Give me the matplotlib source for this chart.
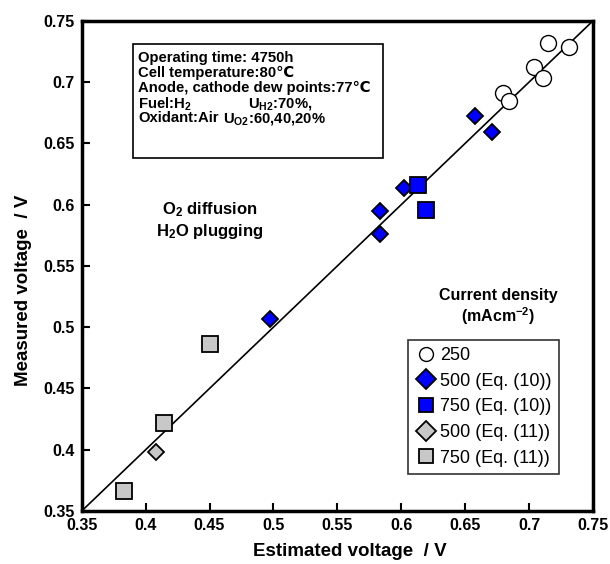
import numpy as np
import matplotlib.pyplot as plt
from matplotlib.patches import Rectangle

plt.rcParams['font.family'] = ['Liberation Sans', 'DejaVu Sans']
plt.rcParams['mathtext.fontset'] = 'custom'
plt.rcParams['mathtext.rm'] = 'Liberation Sans:bold'
plt.rcParams['mathtext.it'] = 'Liberation Sans:bold'
plt.rcParams['mathtext.bf'] = 'Liberation Sans:bold'

# 250 mA/cm2
est_250 = [0.715, 0.731, 0.704, 0.711, 0.680, 0.684]
meas_250 = [0.732, 0.729, 0.712, 0.703, 0.691, 0.685]
# 500 mA/cm2, Eq. (10)
est_500_10 = [0.658, 0.671, 0.602, 0.583, 0.583, 0.497]
meas_500_10 = [0.672, 0.659, 0.614, 0.595, 0.576, 0.507]
# 750 mA/cm2, Eq. (10)
est_750_10 = [0.613, 0.619]
meas_750_10 = [0.616, 0.596]
# 500 mA/cm2, Eq. (11)
est_500_11 = [0.408]
meas_500_11 = [0.398]
# 750 mA/cm2, Eq. (11)
est_750_11 = [0.383, 0.414, 0.450]
meas_750_11 = [0.366, 0.422, 0.486]

fig = plt.figure(figsize=(6.1, 5.64), dpi=100)
ax = fig.add_axes([0.134, 0.094, 0.838, 0.869])

ax.plot([0.35, 0.75], [0.35, 0.75], color='black', lw=1.2, zorder=1)

ax.plot(est_250, meas_250, 'o', ms=11.5, mfc='white', mec='black', mew=1.0, label='250')
ax.plot(est_500_10, meas_500_10, 'D', ms=8.5, mfc='#0000ff', mec='black', mew=1.3, label='500 (Eq. (10))')
ax.plot(est_750_10, meas_750_10, 's', ms=11.5, mfc='#0000ff', mec='black', mew=1.3, label='750 (Eq. (10))')
ax.plot(est_500_11, meas_500_11, 'D', ms=8.5, mfc='#c8c8c8', mec='black', mew=1.3, label='500 (Eq. (11))')
ax.plot(est_750_11, meas_750_11, 's', ms=11.5, mfc='#c8c8c8', mec='black', mew=1.3, label='750 (Eq. (11))')

ax.set_xlim(0.35, 0.75)
ax.set_ylim(0.35, 0.75)
ticks = [0.35, 0.4, 0.45, 0.5, 0.55, 0.6, 0.65, 0.7, 0.75]
ticklabels = ['0.35', '0.4', '0.45', '0.5', '0.55', '0.6', '0.65', '0.7', '0.75']
ax.set_xticks(ticks)
ax.set_xticklabels(ticklabels)
ax.set_yticks(ticks)
ax.set_yticklabels(ticklabels)
ax.tick_params(direction='in', length=6, width=1.5, labelsize=11.5, pad=5)
for lab in ax.get_xticklabels() + ax.get_yticklabels():
    lab.set_fontweight('bold')
for s in ax.spines.values():
    s.set_linewidth(2.5)

ax.set_xlabel('Estimated voltage  / V', fontsize=13.5, fontweight='bold', labelpad=3)
ax.xaxis.set_label_coords(0.525, -0.065)
ax.set_ylabel('Measured voltage  / V', fontsize=13.5, fontweight='bold')
ax.yaxis.set_label_coords(-0.098, 0.45)

# conditions box
ax.add_patch(Rectangle((0.390, 0.638), 0.196, 0.093, fill=False, ec='black', lw=1.2, zorder=3))
fs = 10.7
ax.text(0.394, 0.7206, 'Operating time: 4750h', fontsize=fs, fontweight='bold', va='center_baseline')
ax.text(0.394, 0.7084, 'Cell temperature:80\u2103', fontsize=fs, fontweight='bold', va='center_baseline')
ax.text(0.394, 0.6961, 'Anode, cathode dew points:77\u2103', fontsize=fs, fontweight='bold', va='center_baseline')
ax.text(0.394, 0.6839, 'Fuel:H$_2$', fontsize=fs, fontweight='bold', va='center_baseline')
ax.text(0.480, 0.6839, 'U$_{H2}$:70%,', fontsize=fs, fontweight='bold', va='center_baseline')
ax.text(0.394, 0.6716, 'Oxidant:Air', fontsize=fs, fontweight='bold', va='center_baseline')
ax.text(0.4606, 0.6716, 'U$_{O2}$:60,40,20%', fontsize=fs, fontweight='bold', va='center_baseline')

ax.text(0.450, 0.5957, 'O$_2$ diffusion', fontsize=12, ha='center', va='center', fontweight='bold')
ax.text(0.450, 0.5778, 'H$_2$O plugging', fontsize=12, ha='center', va='center', fontweight='bold')

ax.text(0.676, 0.526, 'Current density', fontsize=11.5, ha='center', va='center', fontweight='bold')
ax.text(0.676, 0.509, '(mAcm$^{-2}$)', fontsize=11.5, ha='center', va='center', fontweight='bold')

leg = ax.legend(loc='lower left', bbox_to_anchor=(0.638, 0.0755), fontsize=13,
                frameon=True, fancybox=False, edgecolor='black', handletextpad=0.2,
                handlelength=1.2, borderpad=0.4, labelspacing=0.48, borderaxespad=0)
leg.get_frame().set_linewidth(1.2)
for h in leg.get_lines():
    h.set_markersize(10)

fig.savefig('out.png', dpi=100)
